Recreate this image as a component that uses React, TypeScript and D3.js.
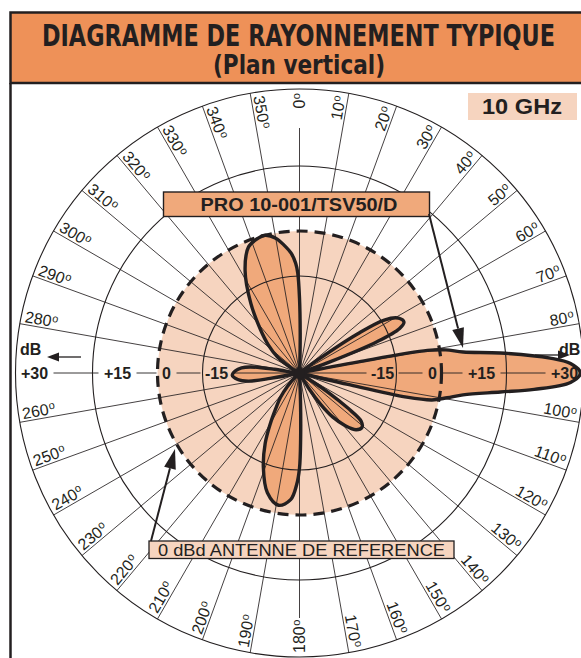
import React from 'react';
import * as d3 from 'd3';

const WIDTH = 581;
const HEIGHT = 658;
const INK = '#231F20';

// grid levels in dB (the printed grid is not linear in dB)
const gridLevels = [-30, -15, 0, 15, 30];
const ringLevels = [-15, 15, 30];
const referenceLevel = 0;

// labels on the horizontal axis
const axisValues = [-15, 0, 15, 30];
const axisLabels = ['-15', '0', '+15', '+30'];

// spokes every 10 degrees, labels on all but 90 / 270
const spokeAngles = [
  0, 10, 20, 30, 40, 50, 60, 70, 80, 90, 100, 110, 120, 130, 140, 150, 160, 170,
  180, 190, 200, 210, 220, 230, 240, 250, 260, 270, 280, 290, 300, 310, 320, 330, 340, 350,
];
const degreeLabels = [
  0, 10, 20, 30, 40, 50, 60, 70, 80, 100, 110, 120, 130, 140, 150, 160, 170,
  180, 190, 200, 210, 220, 230, 240, 250, 260, 280, 290, 300, 310, 320, 330, 340, 350,
];

// radiation pattern: angle (deg, clockwise from top) and relative gain (dB)
const patternAngles = [
  0, 1, 2, 4,
  52, 54, 56, 58, 61, 64, 66, 68, 70, 72,
  78.5, 79.3, 80, 81, 82.7, 84.3, 86.6, 88, 90, 92, 94, 95.4, 97.6, 99.5, 101.5, 102.7, 103.3, 104,
  121, 124, 126, 128, 131, 135, 139, 143, 146, 149, 152,
  176, 178, 179, 180, 181.5, 184, 189, 195, 201, 206, 210, 214, 218, 222, 227, 231,
  258, 259.5, 261, 264, 268, 272, 275, 277, 278.5, 280,
  300, 306, 312, 318, 325, 332, 338, 343, 346, 350, 353, 356, 358, 359,
];
const patternDb = [
  -18.4, -23.8, -28.5, -30,
  -30, -26.9, -19.2, -14.0, -9.6, -8.6, -10.8, -17.0, -25.0, -30,
  -30, -20.7, -4.0, 1.4, 5.3, 13.8, 23.6, 27.5, 29.4, 27.5, 20.5, 13.8, 5.3, 1.8, -2.3, -10.7, -22.3, -30,
  -30, -24.6, -20.7, -17.9, -17.2, -17.6, -19.2, -21.5, -24.1, -27.2, -30,
  -30, -25.4, -19.9, -15.3, -10.0, -5.0, -2.7, -6.0, -13.7, -17.9, -21.0, -23.5, -25.2, -27.2, -29.1, -30,
  -30, -25.4, -22.0, -20.4, -19.6, -20.1, -21.0, -22.3, -26.1, -30,
  -28.8, -25.8, -23.5, -21.0, -16.9, -8.7, -2.0, -0.3, 0, -1.7, -4.3, -7.3, -10.7, -14.0,
];

const cx = 299.5;
const cy = 373;

const rScale = d3.scaleLinear().domain(gridLevels).range([0, 97, 142, 207, 284]);
const rOuter = rScale(30);

const rad = (deg: number) => (deg * Math.PI) / 180;
const polar = (deg: number, r: number): [number, number] => [
  cx + r * Math.sin(rad(deg)),
  cy - r * Math.cos(rad(deg)),
];

function arrow(x1: number, y1: number, x2: number, y2: number, len: number, half: number) {
  const L = Math.hypot(x2 - x1, y2 - y1);
  const ux = (x2 - x1) / L;
  const uy = (y2 - y1) / L;
  const bx = x2 - ux * len;
  const by = y2 - uy * len;
  return {
    line: { x1, y1, x2: bx, y2: by },
    head: `${x2},${y2} ${bx - uy * half},${by + ux * half} ${bx + uy * half},${by - ux * half}`,
  };
}

// label radius shift (inside each ring) and gap cut in the axis line
const axisShift: Record<string, number> = { '-15': 14, '0': 9, '+15': 25, '+30': 19 };
const axisHalfGap: Record<string, number> = { '-15': 16, '0': 10, '+15': 19, '+30': 19 };

export default function App() {
  const points: [number, number][] = patternAngles.map((a, i) => [rad(a), rScale(patternDb[i])]);
  const patternPath = d3
    .lineRadial<[number, number]>()
    .angle((d) => d[0])
    .radius((d) => d[1])
    .curve(d3.curveCatmullRomClosed.alpha(0.5))(points) as string;

  // horizontal axis segments with gaps behind the labels
  const gaps = axisLabels
    .map((lab, i) => {
      const r = rScale(axisValues[i]) - axisShift[lab];
      return [r - axisHalfGap[lab], r + axisHalfGap[lab]];
    })
    .sort((a, b) => a[0] - b[0]);
  const segs: [number, number][] = [];
  let start = 0;
  gaps.forEach(([g0, g1]) => {
    segs.push([start, g0]);
    start = g1;
  });
  segs.push([start, rOuter]);

  const pro = arrow(429, 214, 463, 348, 20, 6);
  const ref = arrow(151, 541, 175, 449, 20, 6);
  const dbLeft = arrow(81, 357, 47, 357, 12, 4.5);
  const dbRight = arrow(535, 355, 570, 355, 12, 4.5);

  const sans = "'Liberation Sans', Arial, Helvetica, sans-serif";
  const narrow = "'Liberation Sans Narrow', 'DejaVu Sans Condensed', 'Liberation Sans', Arial, sans-serif";

  return (
    <svg
      width={WIDTH}
      height={HEIGHT}
      style={{ position: 'absolute', left: 0, top: 0, background: '#fff' }}
      fontFamily={sans}
    >
      <rect x={0} y={0} width={WIDTH} height={HEIGHT} fill="#fff" />

      {/* 0 dBd reference disk */}
      <circle cx={cx} cy={cy} r={rScale(referenceLevel)} fill="#F6D4BF" />

      {/* pattern fill */}
      <path d={patternPath} transform={`translate(${cx},${cy})`} fill="#F0A97B" />

      {/* rings */}
      {ringLevels.map((v) => (
        <circle key={v} cx={cx} cy={cy} r={rScale(v)} fill="none" stroke={INK} strokeWidth={1.1} />
      ))}

      {/* spokes */}
      {spokeAngles
        .filter((a) => a !== 90 && a !== 270)
        .map((a) => {
          const rEnd = a === 0 || a === 180 ? 245 : rOuter;
          const [x2, y2] = polar(a, rEnd);
          return <line key={a} x1={cx} y1={cy} x2={x2} y2={y2} stroke={INK} strokeWidth={0.85} />;
        })}
      {[90, 270].map((a) =>
        segs.map(([r0, r1], i) => {
          const [x1, y1] = polar(a, r0);
          const [x2, y2] = polar(a, r1);
          return <line key={`${a}-${i}`} x1={x1} y1={y1} x2={x2} y2={y2} stroke={INK} strokeWidth={0.9} />;
        })
      )}

      {/* pattern outline */}
      <path
        d={patternPath}
        transform={`translate(${cx},${cy})`}
        fill="none"
        stroke={INK}
        strokeWidth={3.4}
        strokeLinejoin="round"
      />

      {/* reference dashed circle */}
      <circle
        cx={cx}
        cy={cy}
        r={rScale(referenceLevel)}
        fill="none"
        stroke={INK}
        strokeWidth={3.2}
        strokeDasharray="11 7"
      />
      <circle cx={cx} cy={cy} r={5.5} fill={INK} />

      {/* axis labels */}
      {[90, 270].map((a) =>
        axisLabels.map((lab, i) => {
          const [x, y] = polar(a, rScale(axisValues[i]) - axisShift[lab]);
          return (
            <text
              key={`${a}-${lab}`}
              x={x}
              y={y}
              dy="0.36em"
              textAnchor="middle"
              fontWeight="bold"
              fontSize={16}
              fill={INK}
            >
              {lab}
            </text>
          );
        })
      )}
      <text x={20} y={355} fontWeight="bold" fontSize={16} fill={INK}>dB</text>
      <text x={559} y={355} fontWeight="bold" fontSize={16} fill={INK}>dB</text>
      <line {...dbLeft.line} stroke={INK} strokeWidth={1.3} />
      <polygon points={dbLeft.head} fill={INK} />
      <line {...dbRight.line} stroke={INK} strokeWidth={1.3} />
      <polygon points={dbRight.head} fill={INK} />

      {/* degree labels */}
      {degreeLabels.map((a) => {
        const right = a < 180;
        const [x, y] = polar(a, 280);
        const rot = right ? a - 90 : a + 90;
        const onAxis = a === 0 || a === 180;
        return (
          <text
            key={a}
            transform={`translate(${x},${y}) rotate(${rot})`}
            textAnchor={right ? 'end' : 'start'}
            dy={onAxis ? '0.36em' : -2.5}
            fontSize={16}
            fill={INK}
          >
            {a}
            <tspan fontSize={11} dy={-5} dx={0.5}>o</tspan>
          </text>
        );
      })}

      {/* product box */}
      <rect x={163.5} y={192} width={266} height={24.5} fill="#F0A97B" stroke={INK} strokeWidth={1.4} />
      <text
        x={299}
        y={211}
        textAnchor="middle"
        fontWeight="bold"
        fontSize={18}
        fill={INK}
        textLength={197}
        lengthAdjust="spacingAndGlyphs"
      >
        PRO 10-001/TSV50/D
      </text>
      <line {...pro.line} stroke={INK} strokeWidth={2} />
      <polygon points={pro.head} fill={INK} />

      {/* reference box */}
      <rect x={149} y={541} width={305} height={17.5} fill="#F6D4BF" stroke={INK} strokeWidth={1.3} />
      <text x={301.5} y={556} textAnchor="middle" fontSize={17} fill={INK} textLength={287} lengthAdjust="spacingAndGlyphs">
        0 dBd ANTENNE DE REFERENCE
      </text>
      <line {...ref.line} stroke={INK} strokeWidth={2} />
      <polygon points={ref.head} fill={INK} />

      {/* frequency */}
      <rect x={468} y={93} width={109} height={27} fill="#F6D4BF" />
      <text
        x={522}
        y={114}
        textAnchor="middle"
        fontWeight="bold"
        fontSize={22}
        fill={INK}
        textLength={80}
        lengthAdjust="spacingAndGlyphs"
      >
        10 GHz
      </text>

      {/* frame + title */}
      <rect x={10.5} y={12.5} width={600} height={70.5} fill="#EE9158" stroke={INK} strokeWidth={2.5} />
      <line x1={10.5} y1={83} x2={10.5} y2={HEIGHT} stroke={INK} strokeWidth={2.5} />
      <text
        transform="translate(298.5,45.5) scale(1,1.2)"
        textAnchor="middle"
        fontFamily={narrow}
        fontWeight="bold"
        fontSize={25}
        fill={INK}
        textLength={513}
        lengthAdjust="spacingAndGlyphs"
      >
        DIAGRAMME DE RAYONNEMENT TYPIQUE
      </text>
      <text
        transform="translate(299,74) scale(1,1.2)"
        textAnchor="middle"
        fontFamily={narrow}
        fontWeight="bold"
        fontSize={22}
        fill={INK}
        textLength={172}
        lengthAdjust="spacingAndGlyphs"
      >
        (Plan vertical)
      </text>
    </svg>
  );
}
